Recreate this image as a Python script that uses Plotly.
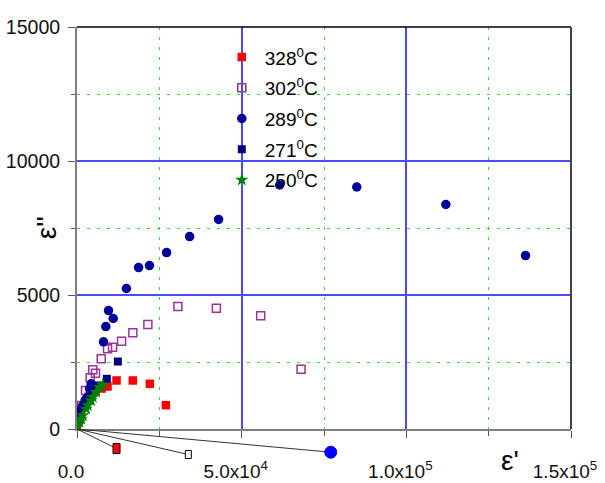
import plotly.graph_objects as go

# ---------------- data ----------------
x_328 = [91, 456, 1368, 2584, 4100, 5620, 7450, 9270, 12010, 16960, 22130, 27000]
y_328 = [205, 466, 765, 1026, 1250, 1399, 1511, 1586, 1810, 1810, 1686, 888]

x_302 = [456, 1368, 2584, 4010, 4800, 5620, 7360, 9270, 10790, 13530, 16960, 21520, 30640, 42320, 55780, 68030]
y_302 = [392, 877, 1436, 1910, 2209, 2082, 2619, 2992, 3052, 3276, 3589, 3899, 4570, 4507, 4224, 2231]

x_289 = [300, 760, 1763, 2797, 3800, 4317, 8056, 8755, 9576, 11000, 15000, 18700, 22000, 27200, 34200, 43000, 61550, 84950, 112000, 136200]
y_289 = [243, 504, 877, 1127, 1500, 1686, 3253, 3824, 4421, 4123, 5242, 6025, 6100, 6585, 7182, 7819, 9105, 9030, 8377, 6473]

x_271 = [304, 1064, 2280, 3500, 5020, 6540, 9060, 12400]
y_271 = [354, 690, 989, 1213, 1436, 1623, 1873, 2518]

x_250 = [243, 760, 1280, 1760, 2800, 3280, 4320, 4800, 5840, 6840, 7840]
y_250 = [131, 254, 381, 504, 754, 877, 1063, 1187, 1373, 1560, 1649]

# decorative markers drawn below the axis (joined to the origin)
x_deco = [12000, 33800, 77050]
y_deco = [-730, -951, -866]

series_names = ["328<sup>0</sup>C", "302<sup>0</sup>C", "289<sup>0</sup>C", "271<sup>0</sup>C", "250<sup>0</sup>C"]

x_tickvals = [0, 50000, 100000, 150000]
x_ticktext = ["0.0", "5.0x10<sup>4</sup>", "1.0x10<sup>5</sup>", "1.5x10<sup>5</sup>"]
x_minor = [25000, 75000, 125000]
y_tickvals = [0, 5000, 10000, 15000]
y_ticktext = ["0", "5000", "10000", "15000"]
y_minor = [2500, 7500, 12500]

X_RANGE = [0, 150000]
Y_RANGE = [0, 15000]

FONT = "Arial, Liberation Sans, sans-serif"

fig = go.Figure()

styles = [
    dict(symbol="square", size=8.5, color="#ff0000", line=dict(width=0)),
    dict(symbol="square-open", size=8, color="#993399", line=dict(width=1.5)),
    dict(symbol="circle", size=9.5, color="#000099", line=dict(width=0)),
    dict(symbol="square", size=8, color="#000080", line=dict(width=0)),
    dict(symbol="star", size=10, color="#008000", line=dict(width=0)),
]
data = [(x_328, y_328), (x_302, y_302), (x_289, y_289), (x_271, y_271), (x_250, y_250)]

for i, ((xs, ys), name, st) in enumerate(zip(data, series_names, styles)):
    fig.add_trace(go.Scatter(
        x=xs, y=ys, mode="markers", name=name, marker=st,
        legendgroup=f"g{i}",
    ))

def px_(v):
    return (v - X_RANGE[0]) / (X_RANGE[1] - X_RANGE[0])

def py_(v):
    return (v - Y_RANGE[0]) / (Y_RANGE[1] - Y_RANGE[0])

# lines from origin to decorative markers
for xd, yd in zip(x_deco, y_deco):
    fig.add_shape(type="line", xref="paper", yref="paper",
                  x0=px_(0), y0=py_(0), x1=px_(xd), y1=py_(yd),
                  line=dict(color="#333333", width=1))

# decorative markers (shapes sized in pixels, outside the plot area)
deco_style = [
    dict(type="rect", half=(3.5, 5), fill="#ff0000", line="#000000"),
    dict(type="rect", half=(3, 4), fill="#ffffff", line="#000000"),
    dict(type="circle", half=(6, 6), fill="#0000ff", line="#0000ff"),
]
for xd, yd, st in zip(x_deco, y_deco, deco_style):
    hx, hy = st["half"]
    fig.add_shape(type=st["type"], xref="paper", yref="paper",
                  xsizemode="pixel", ysizemode="pixel",
                  xanchor=px_(xd), yanchor=py_(yd),
                  x0=-hx, x1=hx, y0=-hy, y1=hy,
                  fillcolor=st["fill"], line=dict(color=st["line"], width=1))

# frame: top and right borders
fig.add_shape(type="line", xref="paper", yref="paper", x0=0, x1=1, y0=1, y1=1,
              line=dict(color="#000000", width=1.5))
fig.add_shape(type="line", xref="paper", yref="paper", x0=1, x1=1, y0=0, y1=1,
              line=dict(color="#444444", width=2))

# axis titles
fig.add_annotation(text="ε'", xref="paper", yref="paper", x=0.876, y=-0.078,
                   xanchor="center", yanchor="middle",
                   showarrow=False, font=dict(family=FONT, size=28, color="#000"))
fig.add_annotation(text="ε''", xref="paper", yref="paper", x=-0.062, y=0.50,
                   xanchor="center", yanchor="middle",
                   showarrow=False, textangle=-90,
                   font=dict(family=FONT, size=28, color="#000"))

GRID_MINOR = dict(showgrid=True, gridcolor="#33dd33", griddash="3px,7px", gridwidth=1.3)

fig.update_xaxes(
    range=X_RANGE, tickvals=x_tickvals, ticktext=x_ticktext, automargin=False,
    showline=True, linecolor="#808080", linewidth=2,
    ticks="outside", ticklen=7, tickcolor="#555555", tickwidth=1,
    ticklabelstandoff=17, ticklabelshift=-6,
    tickfont=dict(family=FONT, size=19, color="#111"),
    showgrid=True, gridcolor="#4a4aff", gridwidth=1.5, zeroline=False,
    minor=dict(tickvals=x_minor, ticks="outside", ticklen=5, tickcolor="#555555", **GRID_MINOR),
)
fig.update_yaxes(
    range=Y_RANGE, tickvals=y_tickvals, ticktext=y_ticktext, automargin=False,
    showline=True, linecolor="#808080", linewidth=2,
    ticks="outside", ticklen=7, tickcolor="#555555", tickwidth=1,
    ticklabelstandoff=4,
    tickfont=dict(family=FONT, size=19.5, color="#111"),
    showgrid=True, gridcolor="#4a4aff", gridwidth=1.5, zeroline=False,
    minor=dict(tickvals=y_minor, ticks="outside", ticklen=4, tickcolor="#555555", **GRID_MINOR),
)

fig.update_layout(
    width=605, height=483,
    margin=dict(l=77, r=34, t=27, b=54),
    plot_bgcolor="white", paper_bgcolor="white",
    font=dict(family=FONT, color="#000"),
    legend=dict(x=0.287, y=0.972, xanchor="left", yanchor="top",
                bgcolor="rgba(0,0,0,0)", font=dict(family=FONT, size=19, color="#000"),
                tracegroupgap=3, itemwidth=36),
)

fig.write_html("out.html")
